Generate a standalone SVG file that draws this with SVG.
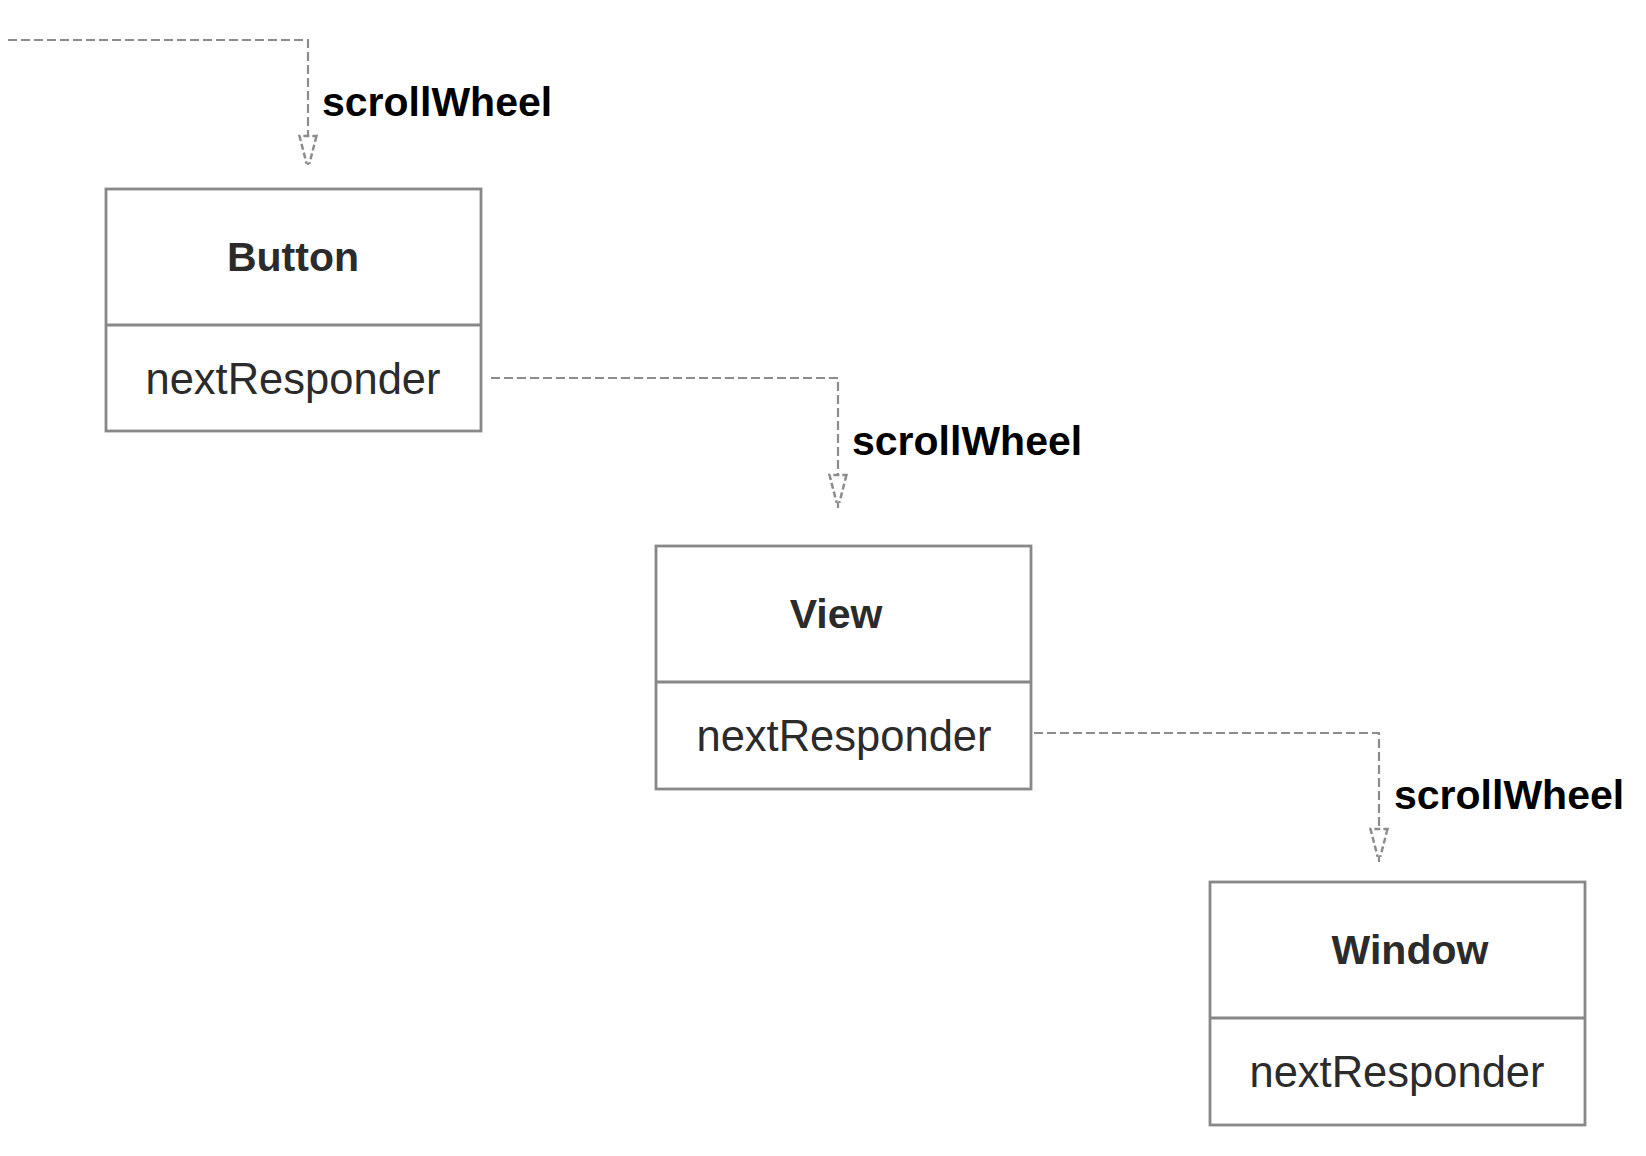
<svg xmlns="http://www.w3.org/2000/svg" width="1646" height="1156" viewBox="0 0 1646 1156">
<defs>
<style>
.box{fill:#fff;stroke:#888;stroke-width:2.8}
.title{font-family:"Liberation Sans",Arial,sans-serif;font-weight:bold;font-size:41px;fill:#2b2b2b;text-anchor:middle}
.attr{font-family:"Liberation Sans",Arial,sans-serif;font-size:43.5px;fill:#2b2b2b;text-anchor:middle}
.lbl{font-family:"Liberation Sans",Arial,sans-serif;font-weight:bold;font-size:41px;fill:#000}
.conn{fill:none;stroke:#8c8c8c;stroke-width:2.2;stroke-dasharray:9 4}
</style>
<marker id="arr" markerUnits="userSpaceOnUse" viewBox="-10 -2 38 24" refX="33" refY="10" markerWidth="38" markerHeight="24" orient="auto">
<path d="M0,1.5 L33,10 L0,18.5 Z" fill="#fff" stroke="#8c8c8c" stroke-width="2.5" stroke-dasharray="6 3"/>
</marker>
</defs>
<rect width="1646" height="1156" fill="#fff"/>
<g id="connectors">
<path class="conn" d="M8,40 H308 V169" marker-end="url(#arr)"/>
<path class="conn" d="M491,378 H838 V508" marker-end="url(#arr)"/>
<path class="conn" d="M1034,733 H1379 V862" marker-end="url(#arr)"/>
<text class="lbl" x="322" y="116">scrollWheel</text>
<text class="lbl" x="852" y="455">scrollWheel</text>
<text class="lbl" x="1394" y="809">scrollWheel</text>
</g>
<g id="button">
<rect class="box" x="106" y="189" width="375" height="242"/>
<line class="box" x1="106" y1="325" x2="481" y2="325"/>
<text class="title" x="293" y="271">Button</text>
<text class="attr" x="293" y="394">nextResponder</text>
</g>
<g id="view">
<rect class="box" x="656" y="546" width="375" height="243"/>
<line class="box" x1="656" y1="682" x2="1031" y2="682"/>
<text class="title" x="836" y="628">View</text>
<text class="attr" x="844" y="751">nextResponder</text>
</g>
<g id="window">
<rect class="box" x="1210" y="882" width="375" height="243"/>
<line class="box" x1="1210" y1="1018" x2="1585" y2="1018"/>
<text class="title" x="1410" y="964">Window</text>
<text class="attr" x="1397" y="1087">nextResponder</text>
</g>
</svg>
